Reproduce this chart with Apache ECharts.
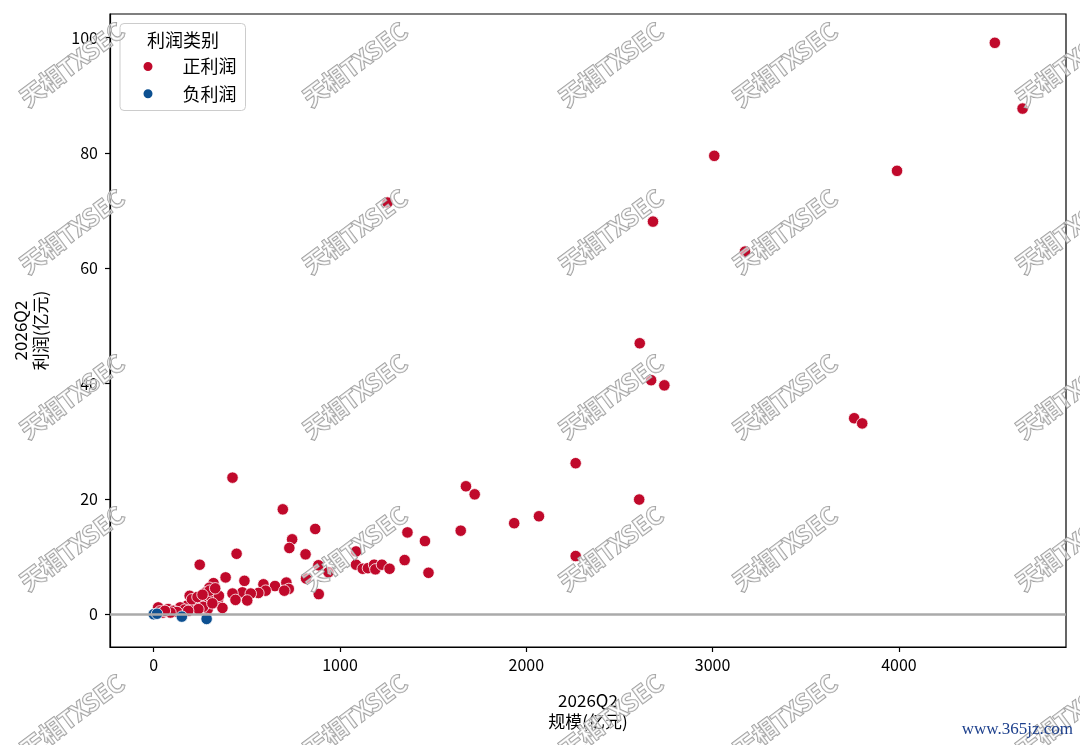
<!DOCTYPE html>
<html>
<head>
<meta charset="utf-8">
<style>
html,body{margin:0;padding:0;background:#fff;}
#chart{width:1080px;height:745px;}
</style>
<script src="https://cdn.jsdelivr.net/npm/echarts@6/dist/echarts.min.js"></script>
</head>
<body>
<div id="chart"></div>
<script>
// ---- data ----
const seriesNames = ['正利润', '负利润'];
// 正利润: 规模 (亿元) and 利润 (亿元)
const posScale = [4515,4664,3009,3990,1255,2680,3174,2609,2670,2741,3760,3803,2265,423,1676,1723,2606,693,2068,1935,867,1648,1362,743,1456,728,1086,445,815,2265,1347,247,884,1086,1122,1150,1183,1190,1225,1266,938,1475,386,818,487,712,589,321,651,299,725,701,601,332,280,476,423,562,521,886,193,273,439,345,502,199,286,179,216,142,24,369,290,77,166,105,33,49,250,310,230,125,90,60,350,265,205,235,300,315,240,185,330,262];
const posProfit = [99.1,87.7,79.5,76.9,71.4,68.1,62.9,47.0,40.6,39.7,34.0,33.1,26.2,23.7,22.2,20.8,19.9,18.2,17.0,15.8,14.8,14.5,14.2,13.0,12.7,11.5,10.9,10.5,10.4,10.1,9.4,8.6,8.5,8.6,7.9,8.0,8.6,7.8,8.6,7.9,7.3,7.2,6.4,6.2,5.8,5.5,5.2,5.4,4.9,4.6,4.4,4.1,4.1,3.8,3.8,3.8,3.6,3.7,3.6,3.5,3.2,2.7,2.5,2.5,2.4,2.1,1.8,1.5,1.2,1.2,1.2,1.1,0.9,0.9,0.8,0.6,0.5,0.3,1.6,2.9,2.4,0.4,0.3,0.6,3.2,1.3,2.6,3.0,4.1,1.9,0.9,0.6,4.5,3.4];
// 负利润
const negScale = [0, 18, 151, 284];
const negProfit = [0, 0.1, -0.4, -0.8];
// ticks
const xTicks = [0, 1000, 2000, 3000, 4000];
const yTicks = [0, 20, 40, 60, 80, 100];
const legendTitle = '利润类别';
const xName = '2026Q2\n规模(亿元)';
const yName = '2026Q2\n利润(亿元)';
const watermarkText = '天相TXSEC';
const siteText = 'www.365jz.com';

const pos = posScale.map((x, i) => [x, posProfit[i]]);
const neg = negScale.map((x, i) => [x, negProfit[i]]);

const FONT = '"Noto Sans CJK SC", "Noto Sans", sans-serif';
const RED = '#c0092b';
const BLUE = '#0c5091';

// watermark tiles
const wmCols = [72, 355, 611, 785, 1068];
const wmRows = [64, 231, 396, 548, 716];
const wm = [];
wmRows.forEach(y => wmCols.forEach(x => {
  wm.push({
    type: 'text', x: x, y: y, rotation: 0.64, z: 100, silent: true,
    style: {
      text: watermarkText, x: 0, y: 0, align: 'center', verticalAlign: 'middle',
      font: 'bold 24px ' + FONT, fill: 'rgba(255,255,255,0.55)', stroke: '#999999', lineWidth: 1.4
    }
  });
}));

const plain = v => String(v);

const chart = echarts.init(document.getElementById('chart'), null, {renderer: 'canvas'});
chart.setOption({
  animation: false,
  backgroundColor: '#fff',
  textStyle: {fontFamily: FONT},
  grid: {left: 110, right: 14, top: 14, bottom: 98, show: true, borderColor: '#000', borderWidth: 1.2, backgroundColor: 'transparent'},
  xAxis: {
    type: 'value', min: -234.6, max: 4897,
    splitLine: {show: false},
    axisLine: {show: true, onZero: false, lineStyle: {color: '#000', width: 1.2}},
    axisTick: {show: true, customValues: xTicks, length: 5, lineStyle: {color: '#000', width: 1.2}},
    axisLabel: {customValues: xTicks, formatter: plain, fontSize: 16, color: '#000', margin: 10, fontFamily: FONT},
    name: xName, nameLocation: 'middle', nameGap: 43,
    nameTextStyle: {fontSize: 17, lineHeight: 21, color: '#000', fontFamily: FONT}
  },
  yAxis: {
    type: 'value', min: -5.67, max: 104.1,
    splitLine: {show: false},
    axisLine: {show: true, onZero: false, lineStyle: {color: '#000', width: 1.2}},
    axisTick: {show: true, customValues: yTicks, length: 5, lineStyle: {color: '#000', width: 1.2}},
    axisLabel: {customValues: yTicks, formatter: plain, fontSize: 16, color: '#000', margin: 12, fontFamily: FONT},
    name: yName, nameLocation: 'middle', nameGap: 59,
    nameTextStyle: {fontSize: 17, lineHeight: 20, color: '#000', fontFamily: FONT}
  },
  legend: {
    left: 141.5, top: 57.5, orient: 'vertical', padding: 0,
    itemWidth: 11, itemHeight: 11, itemGap: 9.3, icon: 'circle',
    data: seriesNames,
    textStyle: {fontSize: 18, lineHeight: 18, color: '#000', padding: [0, 0, 0, 24], fontFamily: FONT}
  },
  graphic: [
    {type: 'rect', z: 3, silent: true, shape: {x: 120, y: 23.5, width: 125.5, height: 87, r: 4},
     style: {fill: 'rgba(255,255,255,0.85)', stroke: '#cccccc', lineWidth: 1}},
    {type: 'text', z: 5, silent: true, x: 183, y: 40,
     style: {text: legendTitle, align: 'center', verticalAlign: 'middle', font: '18px ' + FONT, fill: '#000'}},
    {type: 'text', z: 101, silent: true, right: 7, top: 721,
     style: {text: siteText, font: '17px "Liberation Serif", "DejaVu Serif", serif', fill: '#1c3f8c'}}
  ].concat(wm),
  series: [
    {
      type: 'scatter', name: '_zero', data: [], z: 1, silent: true,
      markLine: {silent: true, symbol: 'none', label: {show: false},
        lineStyle: {color: '#aaaaaa', width: 2.5, type: 'solid'},
        data: [{yAxis: 0}]}
    },
    {
      type: 'scatter', name: seriesNames[0], data: pos, symbolSize: 11.5, z: 2,
      itemStyle: {color: RED, borderColor: '#fff', borderWidth: 0.8, opacity: 1}
    },
    {
      type: 'scatter', name: seriesNames[1], data: neg, symbolSize: 11.5, z: 2,
      itemStyle: {color: BLUE, borderColor: '#fff', borderWidth: 0.8, opacity: 1}
    }
  ]
});
</script>
</body>
</html>
